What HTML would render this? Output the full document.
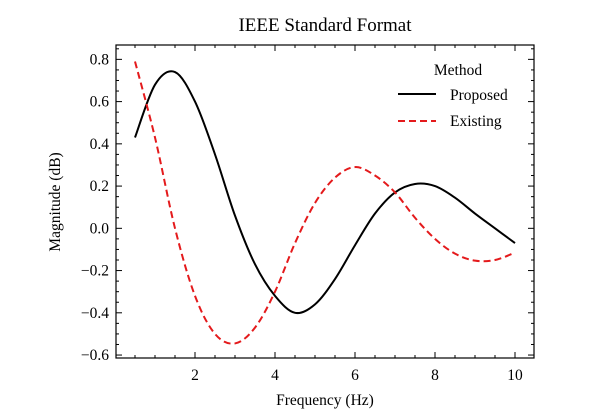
<!DOCTYPE html>
<html><head><meta charset="utf-8"><style>
body{margin:0;background:#fff}
svg{display:block;font-family:"Liberation Serif","DejaVu Serif",serif}
</style></head><body>
<svg id="chart" width="607" height="417">
<rect width="607" height="417" fill="#fff"/>
<text x="325" y="31" text-anchor="middle" font-size="19">IEEE Standard Format</text>
<text x="325" y="405" text-anchor="middle" font-size="15.5">Frequency (Hz)</text>
<text transform="translate(60,202) rotate(-90)" text-anchor="middle" font-size="15.5">Magnitude (dB)</text>
<g id="axes"></g>
<g id="series"></g>
<g>
<text x="458" y="75" text-anchor="middle" font-size="15.5">Method</text>
<line x1="398" y1="94" x2="436" y2="94" stroke="#000" stroke-width="2"/>
<text x="450" y="100" font-size="15.5">Proposed</text>
<line x1="398" y1="121" x2="436" y2="121" stroke="#e41a1c" stroke-width="2" stroke-dasharray="7,4"/>
<text x="450" y="126" font-size="15.5">Existing</text>
</g>
</svg>
<script>
const freq=[0.5,1,1.5,2,2.5,3,3.5,4,4.5,5,5.5,6,6.5,7,7.5,8,8.5,9,9.5,10];
const proposed=[0.43,0.68,0.74,0.60,0.35,0.06,-0.17,-0.32,-0.40,-0.36,-0.24,-0.08,0.07,0.17,0.21,0.20,0.145,0.07,0.00,-0.07];
const existing=[0.79,0.43,0.0,-0.32,-0.50,-0.545,-0.47,-0.30,-0.07,0.12,0.24,0.29,0.25,0.17,0.05,-0.05,-0.12,-0.153,-0.15,-0.115];
const xTicks=[2,4,6,8,10];
const yTicks=[-0.6,-0.4,-0.2,0.0,0.2,0.4,0.6,0.8];
const L=116,R=534,T=45,B=358,X0=0.025,X1=10.475,Y0=-0.614,Y1=0.868;
const sx=v=>L+(v-X0)/(X1-X0)*(R-L);
const sy=v=>B-(v-Y0)/(Y1-Y0)*(B-T);
const NS="http://www.w3.org/2000/svg";
const axes=document.getElementById('axes');
function mk(tag,attrs,parent){const e=document.createElementNS(NS,tag);for(const k in attrs)e.setAttribute(k,attrs[k]);parent.appendChild(e);return e;}
const frame=mk('rect',{x:L,y:T,width:R-L,height:B-T,fill:'none',stroke:'#000','stroke-width':1.2},axes);


for(let v=0.5;v<=10.01;v+=0.5){const x=sx(v);const major=Math.abs(v-Math.round(v/2)*2)<1e-6;const len=major?6:3;
mk('line',{x1:x,x2:x,y1:B,y2:B-len,stroke:'#000','stroke-width':1},axes);
mk('line',{x1:x,x2:x,y1:T,y2:T+len,stroke:'#000','stroke-width':1},axes);}
for(let i=-12;i<=17;i++){const v=i*0.05;const y=sy(v);const major=i%4===0;const len=major?6:3;
mk('line',{x1:L,x2:L+len,y1:y,y2:y,stroke:'#000','stroke-width':1},axes);
mk('line',{x1:R,x2:R-len,y1:y,y2:y,stroke:'#000','stroke-width':1},axes);}
xTicks.forEach(v=>{const t=mk('text',{x:sx(v),y:B+22,'text-anchor':'middle','font-size':15.5},axes);t.textContent=v;

});
yTicks.forEach(v=>{const t=mk('text',{x:L-7,y:sy(v)+5,'text-anchor':'end','font-size':15.5},axes);t.textContent=(v<0?'\u2212':'')+Math.abs(v).toFixed(1);

});
function path(xs,ys){const p=xs.map((x,i)=>[sx(x),sy(ys[i])]);let d='M'+p[0][0]+','+p[0][1];
for(let i=0;i<p.length-1;i++){const p0=p[i-1]||p[i],p1=p[i],p2=p[i+1],p3=p[i+2]||p2;
const c1=[p1[0]+(p2[0]-p0[0])/6,p1[1]+(p2[1]-p0[1])/6],c2=[p2[0]-(p3[0]-p1[0])/6,p2[1]-(p3[1]-p1[1])/6];
d+=' C'+c1+' '+c2+' '+p2;}return d;}
const g=document.getElementById('series');
const l1=mk('path',{d:path(freq,proposed),fill:'none',stroke:'#000','stroke-width':2},g);


const l2=mk('path',{d:path(freq,existing),fill:'none',stroke:'#e41a1c','stroke-width':2,'stroke-dasharray':'7,4'},g);


</script>
</body></html>
